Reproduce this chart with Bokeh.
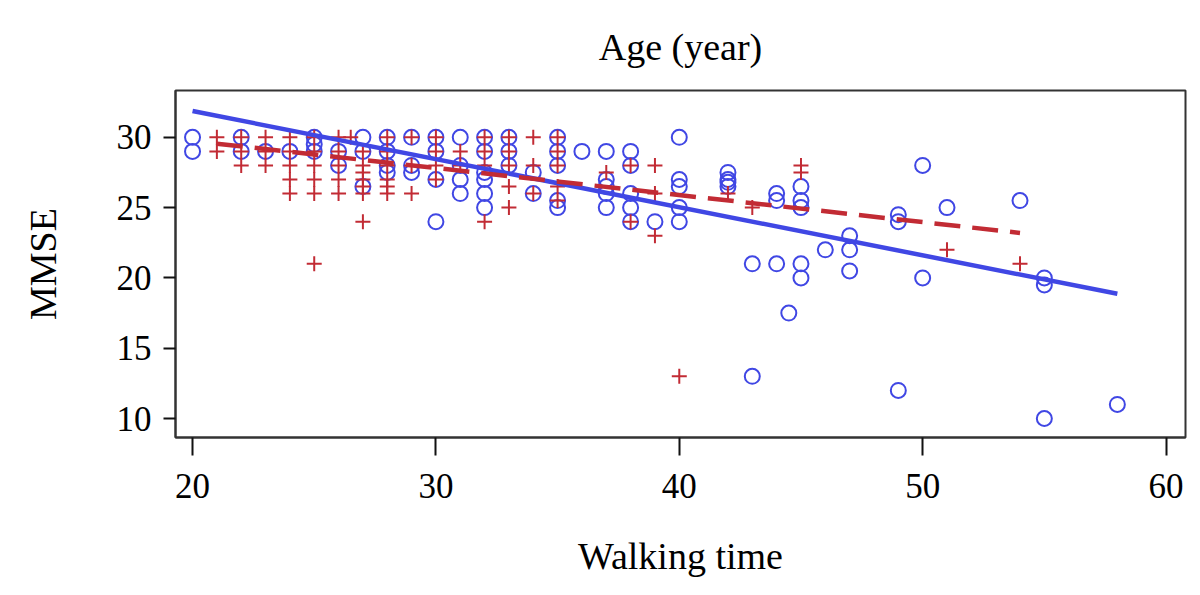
from bokeh.plotting import figure
from bokeh.models import ColumnDataSource, FixedTicker
from bokeh.embed import file_html
from bokeh.resources import INLINE

# Group plotted with open circles (walking time, MMSE)
circle_x = [20, 20,
            22, 22,
            23,
            24,
            25, 25, 25,
            26, 26,
            27, 27, 27,
            28, 28, 28, 28,
            29, 29, 29,
            30, 30, 30, 30,
            31, 31, 31, 31,
            32, 32, 32, 32, 32, 32,
            33, 33, 33,
            34, 34,
            35, 35, 35, 35, 35,
            36,
            37, 37, 37, 37, 37,
            38, 38, 38, 38, 38,
            39,
            40, 40, 40, 40, 40,
            42, 42, 42, 42,
            43, 43,
            44, 44, 44,
            44.5,
            45, 45, 45, 45, 45,
            46,
            47, 47, 47,
            49, 49, 49,
            50, 50,
            51,
            54,
            55, 55, 55,
            58]
circle_y = [30, 29,
            30, 29,
            29,
            29,
            30, 29.5, 29,
            29, 28,
            30, 29, 26.5,
            30, 29, 28, 27.5,
            30, 28, 27.5,
            30, 29, 27, 24,
            30, 28, 27, 26,
            30, 29, 27.5, 27, 26, 25,
            30, 29, 28,
            27.5, 26,
            30, 29, 28, 25.5, 25,
            29,
            29, 27, 26.5, 26, 25,
            29, 28, 26, 25, 24,
            24,
            30, 27, 26.5, 25, 24,
            27.5, 27, 26.8, 26.5,
            21, 13,
            26, 25.5, 21,
            17.5,
            26.5, 25.5, 25, 21, 20,
            22,
            23, 22, 20.5,
            24.5, 24, 12,
            28, 20,
            25,
            25.5,
            20, 19.5, 10,
            11]

# Group plotted with crosses (walking time, MMSE)
cross_x = [21, 21,
           22, 22, 22,
           23, 23, 23,
           24, 24, 24, 24, 24,
           25, 25, 25, 25, 25, 25,
           26, 26, 26, 26, 26,
           26.5,
           27, 27, 27, 27, 27, 27, 27,
           28, 28, 28, 28, 28, 28,
           29, 29, 29,
           30, 30, 30, 30,
           31, 31,
           32, 32, 32, 32,
           33, 33, 33, 33, 33,
           34, 34, 34,
           35, 35, 35, 35, 35,
           37,
           38, 38,
           39, 39, 39,
           40,
           42,
           43,
           45, 45,
           51,
           54]
cross_y = [30, 29,
           30, 29, 28,
           30, 29, 28,
           30, 29, 28, 27, 26,
           30, 29, 28, 27, 26, 21,
           30, 29, 28, 27, 26,
           30,
           29, 28, 27.5, 27, 26.5, 26, 24,
           30, 29, 28, 27, 26.5, 26,
           30, 28, 26,
           30, 29, 28, 27,
           29, 28,
           30, 29, 28, 24,
           30, 29, 28, 26.5, 25,
           30, 28, 26,
           30, 29, 28, 26.5, 25.5,
           27.5,
           28, 24,
           28, 26, 23,
           13,
           26,
           25,
           28, 27.5,
           22,
           21]

# Fitted regression lines (endpoints over each group's range)
circle_fit_x = [20, 58]
circle_fit_y = [31.87, 18.87]
cross_fit_x = [21, 54]
cross_fit_y = [29.55, 23.2]

x_ticks = [20, 30, 40, 50, 60]
y_ticks = [10, 15, 20, 25, 30]

BLUE = "#4047E4"
RED = "#C22B34"
FONT = "Liberation Serif"

p = figure(width=1200, height=595,
           x_range=(19.3, 60.8), y_range=(8.65, 33.33),
           output_backend="svg", toolbar_location=None,
           min_border_left=175, min_border_right=15,
           min_border_top=90, min_border_bottom=158,
           background_fill_color="white", border_fill_color="white")

p.title.text = "Age (year)"
p.title.align = "center"
p.title.vertical_align = "top"
p.title.text_font = FONT
p.title.text_font_size = "38px"
p.title.text_font_style = "normal"
p.title.text_color = "black"
p.title.standoff = 42

p.xgrid.visible = False
p.ygrid.visible = False
p.outline_line_color = "#333333"
p.outline_line_width = 2

for ax in (p.xaxis[0], p.yaxis[0]):
    ax.axis_line_color = "#333333"
    ax.axis_line_width = 2
    ax.major_tick_line_color = "#111111"
    ax.major_tick_line_width = 2
    ax.minor_tick_line_color = None
    ax.major_tick_in = 0
    ax.major_label_text_font = FONT
    ax.major_label_text_font_size = "35px"
    ax.major_label_text_color = "black"
    ax.axis_label_text_font = FONT
    ax.axis_label_text_font_size = "38px"
    ax.axis_label_text_font_style = "normal"
    ax.axis_label_text_color = "black"

p.xaxis[0].ticker = FixedTicker(ticks=x_ticks)
p.yaxis[0].ticker = FixedTicker(ticks=y_ticks)
p.xaxis[0].axis_label = "Walking time"
p.yaxis[0].axis_label = "MMSE"
p.xaxis[0].major_tick_out = 18
p.xaxis[0].major_label_standoff = 18
p.xaxis[0].axis_label_standoff = 34
p.yaxis[0].major_tick_out = 12
p.yaxis[0].major_label_standoff = 12
p.yaxis[0].axis_label_standoff = 50

circles = ColumnDataSource(dict(x=circle_x, y=circle_y))
crosses = ColumnDataSource(dict(x=cross_x, y=cross_y))

p.scatter("x", "y", source=circles, marker="circle", size=15,
          fill_color=None, line_color=BLUE, line_width=2)
p.scatter("x", "y", source=crosses, marker="cross", size=15,
          line_color=RED, line_width=2)

p.line(circle_fit_x, circle_fit_y, line_color=BLUE, line_width=4.5)
p.line(cross_fit_x, cross_fit_y, line_color=RED, line_width=4.5,
       line_dash="26 12")

open("out.html", "w").write(file_html(p, INLINE))
